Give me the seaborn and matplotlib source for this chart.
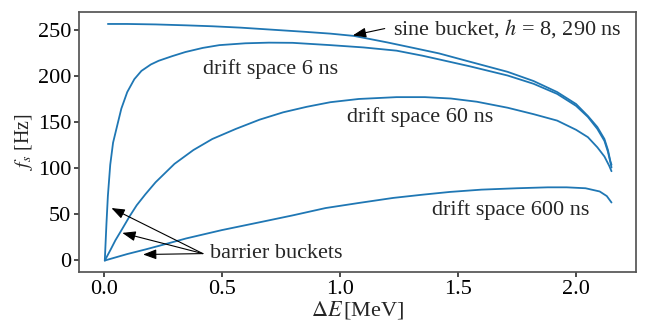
import numpy as np
import pandas as pd
import seaborn as sns
import matplotlib
matplotlib.use("Agg")
import matplotlib.pyplot as plt

# valores (Delta E em MeV, f_s em Hz)
sine_x = [0.018, 0.10, 0.22, 0.35, 0.46, 0.58, 0.70, 0.85, 0.96, 1.06, 1.20, 1.32,
          1.42, 1.55, 1.71, 1.82, 1.92, 2.00, 2.05, 2.09, 2.12, 2.135, 2.145, 2.15]
sine_y = [257, 257, 256.5, 255.5, 254.5, 253, 251, 248.5, 246.5, 244, 237, 230.5,
          225, 216, 205, 195, 183, 170, 157, 145, 132, 120, 108, 104]

d6_x = [0.005, 0.012, 0.018, 0.028, 0.04, 0.056, 0.075, 0.10, 0.13, 0.16, 0.20, 0.233,
        0.29, 0.346, 0.42, 0.49, 0.60, 0.70, 0.80, 0.96, 1.10, 1.24, 1.35, 1.42,
        1.55, 1.71, 1.82, 1.92, 2.00, 2.05, 2.09, 2.12, 2.135, 2.145, 2.15]
d6_y = [0, 40, 70, 104, 128, 145, 165, 183, 197, 206, 213, 217,
        222, 226.5, 231, 234, 236, 236.7, 236.5, 234, 231.5, 228, 222.5, 218.5,
        211, 201, 192, 181, 168, 156, 143, 130, 118, 107, 101]

d60_x = [0.005, 0.03, 0.05, 0.078, 0.11, 0.14, 0.177, 0.22, 0.30, 0.38, 0.46, 0.56,
         0.66, 0.76, 0.86, 0.96, 1.08, 1.24, 1.36, 1.47, 1.58, 1.71, 1.82, 1.92,
         2.00, 2.05, 2.09, 2.12, 2.14, 2.15]
d60_y = [0, 12, 22, 34, 48, 60, 72, 85, 105, 120, 132, 143,
         153, 161, 167, 172, 175.5, 177.5, 177.5, 176, 172.5, 166, 159, 152,
         142, 134, 123, 113, 103, 97]

d600_x = [0.005, 0.10, 0.177, 0.25, 0.35, 0.50, 0.66, 0.80, 0.94, 1.08, 1.226, 1.35,
          1.466, 1.60, 1.75, 1.88, 1.96, 2.04, 2.10, 2.13, 2.15]
d600_y = [0, 7, 12, 17, 24, 33, 41.5, 49, 57, 62.5, 68, 71.5,
          74.5, 77, 78.5, 79.5, 79.5, 78.5, 75, 70, 63]

curvas = {"sine": (sine_x, sine_y), "6": (d6_x, d6_y),
          "60": (d60_x, d60_y), "600": (d600_x, d600_y)}

sns.set_theme(style="ticks")
plt.rcParams["font.family"] = "serif"
plt.rcParams["font.serif"] = ["Liberation Serif", "DejaVu Serif"]
plt.rcParams["mathtext.fontset"] = "stix"
plt.rcParams["axes.edgecolor"] = "#555555"
plt.rcParams["xtick.color"] = "#333333"
plt.rcParams["ytick.color"] = "#333333"
plt.rcParams["xtick.labelcolor"] = "black"
plt.rcParams["ytick.labelcolor"] = "black"
plt.rcParams["xtick.major.size"] = 3.5
plt.rcParams["ytick.major.size"] = 3.5

fs = 16
fig = plt.figure(figsize=(6.46, 3.2), dpi=100)
ax = fig.add_axes([0.122, 0.15, 0.863, 0.8125])

azul = "#1f77b4"
for nome, (xs, ys) in curvas.items():
    df = pd.DataFrame({"dE": xs, "fs": ys})
    sns.lineplot(data=df, x="dE", y="fs", color=azul, lw=1.3, sort=False,
                 estimator=None, ax=ax)

ax.set_xlim(-0.105, 2.255)
ax.set_ylim(-12.5, 270)
ax.set_xticks([0.0, 0.5, 1.0, 1.5, 2.0])
ax.set_yticks([0, 50, 100, 150, 200, 250])
ax.tick_params(labelsize=fs, pad=2)
ax.set_xlabel(r"$\Delta E\,$[MeV]", fontsize=fs, labelpad=0)
ax.set_ylabel(r"$f_s$ [Hz]", fontsize=fs * 0.9, labelpad=2)

# textos
ax.text(0.42, 208.5, "drift space 6 ns", fontsize=fs, va="center")
ax.text(1.03, 156, "drift space 60 ns", fontsize=fs, va="center")
ax.text(1.39, 55, "drift space 600 ns", fontsize=fs, va="center")
ax.text(1.223, 252, r"sine bucket, $h$ = 8, 290 ns", fontsize=fs, va="center")
ax.text(0.45, 7.5, "barrier buckets", fontsize=fs, va="center")

seta = dict(arrowstyle="-|>,head_length=0.8,head_width=0.3", color="black",
            lw=0.8, mutation_scale=10, shrinkA=0, shrinkB=0)
ax.annotate("", xy=(1.055, 244.6), xytext=(1.19, 252), arrowprops=seta)
for cabeca in [(0.033, 57), (0.079, 30), (0.167, 6.5)]:
    ax.annotate("", xy=cabeca, xytext=(0.42, 7.5), arrowprops=seta)

fig.savefig("out.png", dpi=100)
